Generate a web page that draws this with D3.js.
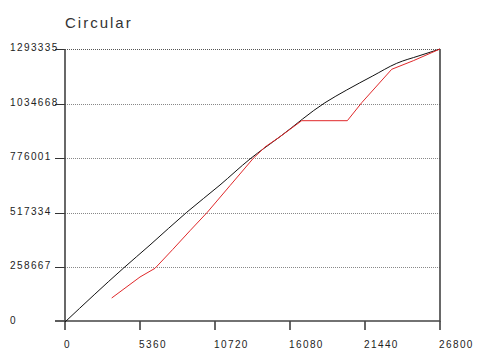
<!DOCTYPE html>
<html>
<head>
<meta charset="utf-8">
<script src="https://cdn.jsdelivr.net/npm/d3@7"></script>
<style>
  body { margin: 0; background: #fff; }
  text { font-family: "Liberation Sans", Arial, sans-serif; }
</style>
</head>
<body>
<div id="chart"></div>
<script>
const TITLE = "Circular";
const xTicks = [0, 5360, 10720, 16080, 21440, 26800];
const yTicks = [0, 258667, 517334, 776001, 1034668, 1293335];

// black reference curve
const blackSeries = [
  [0, 0], [4166, 254400], [6075, 364800], [8698, 519700], [11078, 649000],
  [13221, 772200], [15365, 877900], [18581, 1038900], [20132, 1099100],
  [22000, 1166000], [23706, 1225600], [25300, 1261000], [26800, 1293335]
];

// red measured curve
const redSeries = [
  [3337, 113700], [5360, 213200], [6432, 254400], [7698, 343500],
  [8933, 432500], [10170, 519700], [11800, 646700], [13458, 775500],
  [14294, 829000], [15365, 877900], [16917, 953700], [20176, 953700],
  [21205, 1038900], [23350, 1197200], [24894, 1237900], [26800, 1293335]
];

const W = 478, H = 352;
const svg = d3.select("#chart").append("svg")
  .attr("width", W).attr("height", H);

const x = d3.scaleLinear().domain([0, 26800]).range([65, 440]);
const y = d3.scaleLinear().domain([0, 1293335]).range([322, 49]);
const AXIS_Y = 321;

svg.append("text")
  .attr("x", 65).attr("y", 28)
  .attr("font-size", 15).attr("letter-spacing", 2)
  .attr("fill", "#333")
  .text(TITLE);

// dotted grid
svg.append("g").selectAll("line")
  .data(yTicks.filter(d => d > 0))
  .join("line")
  .attr("x1", x(0)).attr("x2", x(26800))
  .attr("y1", d => Math.round(y(d)) + 0.5).attr("y2", d => Math.round(y(d)) + 0.5)
  .attr("stroke", (d, i, a) => i === a.length - 1 ? "#555" : "#888")
  .attr("stroke-dasharray", "1,1");

// y ticks + labels
const yg = svg.append("g");
yg.selectAll("line").data(yTicks).join("line")
  .attr("x1", 55).attr("x2", 65)
  .attr("y1", d => d === 0 ? AXIS_Y : Math.round(y(d)) + 0.5)
  .attr("y2", d => d === 0 ? AXIS_Y : Math.round(y(d)) + 0.5)
  .attr("stroke", "#333").attr("stroke-width", d => d === 0 ? 1.6 : 1);
yg.selectAll("text").data(yTicks).join("text")
  .attr("x", 10).attr("y", d => d === 0 ? AXIS_Y + 3 : y(d) + 2)
  .attr("font-size", 10).attr("letter-spacing", 1.4)
  .attr("fill", "#222")
  .text(d => d);

// x ticks + labels
const xg = svg.append("g");
xg.selectAll("line").data(xTicks).join("line")
  .attr("x1", d => Math.round(x(d))).attr("x2", d => Math.round(x(d)))
  .attr("y1", AXIS_Y).attr("y2", 330)
  .attr("stroke", "#333").attr("stroke-width", 1.5);
xg.selectAll("text").data(xTicks).join("text")
  .attr("x", d => x(d) - 1).attr("y", 348)
  .attr("font-size", 10).attr("letter-spacing", 1.4)
  .attr("fill", "#222")
  .text(d => d);

// frame: left axis, bottom axis, right border
svg.append("path")
  .attr("d", `M${x(0)},${y(1293335)}V${AXIS_Y}H${x(26800)}V${y(1293335)}`)
  .attr("fill", "none").attr("stroke", "#444").attr("stroke-width", 1.6);

const line = d3.line().x(d => x(d[0])).y(d => y(d[1])).curve(d3.curveMonotoneX);

svg.append("path").datum(blackSeries)
  .attr("d", line)
  .attr("fill", "none").attr("stroke", "#111").attr("stroke-width", 1);

svg.append("path").datum(redSeries)
  .attr("d", d3.line().x(d => x(d[0])).y(d => y(d[1])))
  .attr("fill", "none").attr("stroke", "#e0282a").attr("stroke-width", 1);
</script>
</body>
</html>
